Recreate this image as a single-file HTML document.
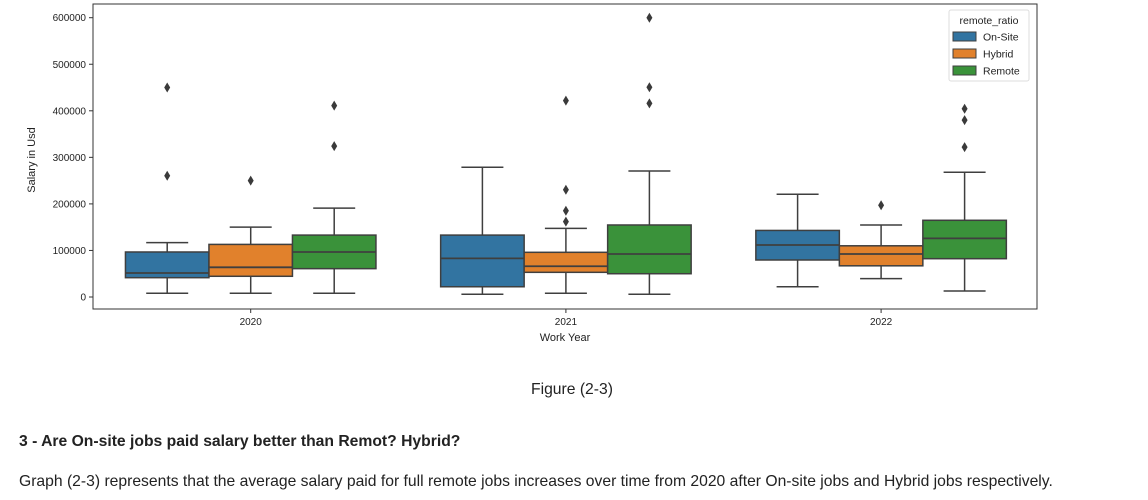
<!DOCTYPE html>
<html><head><meta charset="utf-8"><style>
body{margin:0;background:#fff;width:1148px;height:500px;overflow:hidden;font-family:"Liberation Sans",Arial,sans-serif;position:relative}
.t{position:absolute;color:#222;font-size:15.7px;white-space:nowrap}
</style></head><body>
<svg id="chart" width="1148" height="350" style="position:absolute;left:0;top:0" font-family="Liberation Sans, Arial, sans-serif"></svg>
<div class="t" style="left:531px;top:381px">Figure (2-3)</div>
<div class="t" style="left:19px;top:433px;font-weight:bold">3 - Are On-site jobs paid salary better than Remot? Hybrid?</div>
<div class="t" style="left:19px;top:473px">Graph (2-3) represents that the average salary paid for full remote jobs increases over time from 2020 after On-site jobs and Hybrid jobs respectively.</div>
<script>
const years=["2020","2021","2022"];
const groups=["On-Site","Hybrid","Remote"];
const colors=["#3274a1","#e1812c","#3a923a"];
const yTicks=[0,100000,200000,300000,400000,500000,600000];
// [lowWhisker,Q1,median,Q3,highWhisker] per year per group
const stats2020=[[8000,41500,51600,96700,116700],[8000,44500,63800,113000,150000],[8000,60900,96700,133000,191000]];
const stats2021=[[5800,22000,83000,133000,278600],[8000,53000,66000,96000,147500],[5800,50000,92400,154700,270700]];
const stats2022=[[22000,79500,111700,143000,220600],[39400,67000,92400,110000,154700],[12900,82300,126000,164800,268000]];
const outliers2020=[[450000,260600],[250000],[411000,324000]];
const outliers2021=[[],[421800,230500,185400,161800],[600000,450500,416000]];
const outliers2022=[[],[197000],[404500,380000,322000]];
const stats=[stats2020,stats2021,stats2022];
const outs=[outliers2020,outliers2021,outliers2022];

const svg=document.getElementById('chart');
const NS='http://www.w3.org/2000/svg';
const L=93,R=1037,T=4,B=309;
const y=v=>297-v*(279.3/600000);
const xc=i=>250.7+i*315.2;
const bw=83.5;
function mk(tag,attrs,parent){const e=document.createElementNS(NS,tag);for(const k in attrs)e.setAttribute(k,attrs[k]);(parent||svg).appendChild(e);return e;}
const ec="#3f3f3f";
years.forEach((yr,i)=>{
  groups.forEach((g,j)=>{
    const s=stats[i][j];const cx=xc(i)+(j-1)*bw;
    const grp=mk('g',{});
    
    
    mk('line',{x1:cx,x2:cx,y1:y(s[0]),y2:y(s[1]),stroke:ec,'stroke-width':1.5},grp);
    mk('line',{x1:cx,x2:cx,y1:y(s[3]),y2:y(s[4]),stroke:ec,'stroke-width':1.5},grp);
    mk('line',{x1:cx-21,x2:cx+21,y1:y(s[0]),y2:y(s[0]),stroke:ec,'stroke-width':1.5},grp);
    mk('line',{x1:cx-21,x2:cx+21,y1:y(s[4]),y2:y(s[4]),stroke:ec,'stroke-width':1.5},grp);
    mk('rect',{x:cx-bw/2,y:y(s[3]),width:bw,height:y(s[1])-y(s[3]),fill:colors[j],stroke:ec,'stroke-width':1.5},grp);
    mk('line',{x1:cx-bw/2,x2:cx+bw/2,y1:y(s[2]),y2:y(s[2]),stroke:ec,'stroke-width':1.8},grp);
    outs[i][j].forEach(v=>{
      const p=mk('path',{d:`M${cx},${y(v)-5} L${cx+3},${y(v)} L${cx},${y(v)+5} L${cx-3},${y(v)} Z`,fill:'#3a3a3a'},grp);
      
      
    });
  });
  const tl=mk('line',{x1:xc(i),x2:xc(i),y1:B,y2:B+4,stroke:'#333'});
  const tx=mk('text',{x:xc(i),y:B+16,'text-anchor':'middle','font-size':10,fill:'#222'});
  tx.textContent=yr;
  
  
});
yTicks.forEach(v=>{
  mk('line',{x1:L-4,x2:L,y1:y(v),y2:y(v),stroke:'#333'});
  const t=mk('text',{x:L-7,y:y(v)+3.5,'text-anchor':'end','font-size':10,fill:'#222'});
  t.textContent=v;
  
  
});
const fr=mk('rect',{x:L,y:T,width:R-L,height:B-T,fill:'none',stroke:'#333','stroke-width':1});


const xt=mk('text',{x:565,y:341,'text-anchor':'middle','font-size':11,fill:'#222'});
xt.textContent='Work Year';


const yt=mk('text',{x:35,y:160,'text-anchor':'middle','font-size':11,fill:'#222',transform:'rotate(-90 35 160)'});
yt.textContent='Salary in Usd';


const lg=mk('g',{});


mk('rect',{x:949,y:10,width:80,height:71,fill:'#fff',stroke:'#ddd',rx:2},lg);
const lt=mk('text',{x:989,y:24,'text-anchor':'middle','font-size':10.5,fill:'#222'},lg);
lt.textContent='remote_ratio';
groups.forEach((g,j)=>{
  const yy=32+j*17;
  mk('rect',{x:953,y:yy,width:23,height:9,fill:colors[j],stroke:ec,'stroke-width':1},lg);
  const t=mk('text',{x:983,y:yy+8.5,'font-size':10.5,fill:'#222'},lg);
  t.textContent=g;
  
  
});
</script>
</body></html>
